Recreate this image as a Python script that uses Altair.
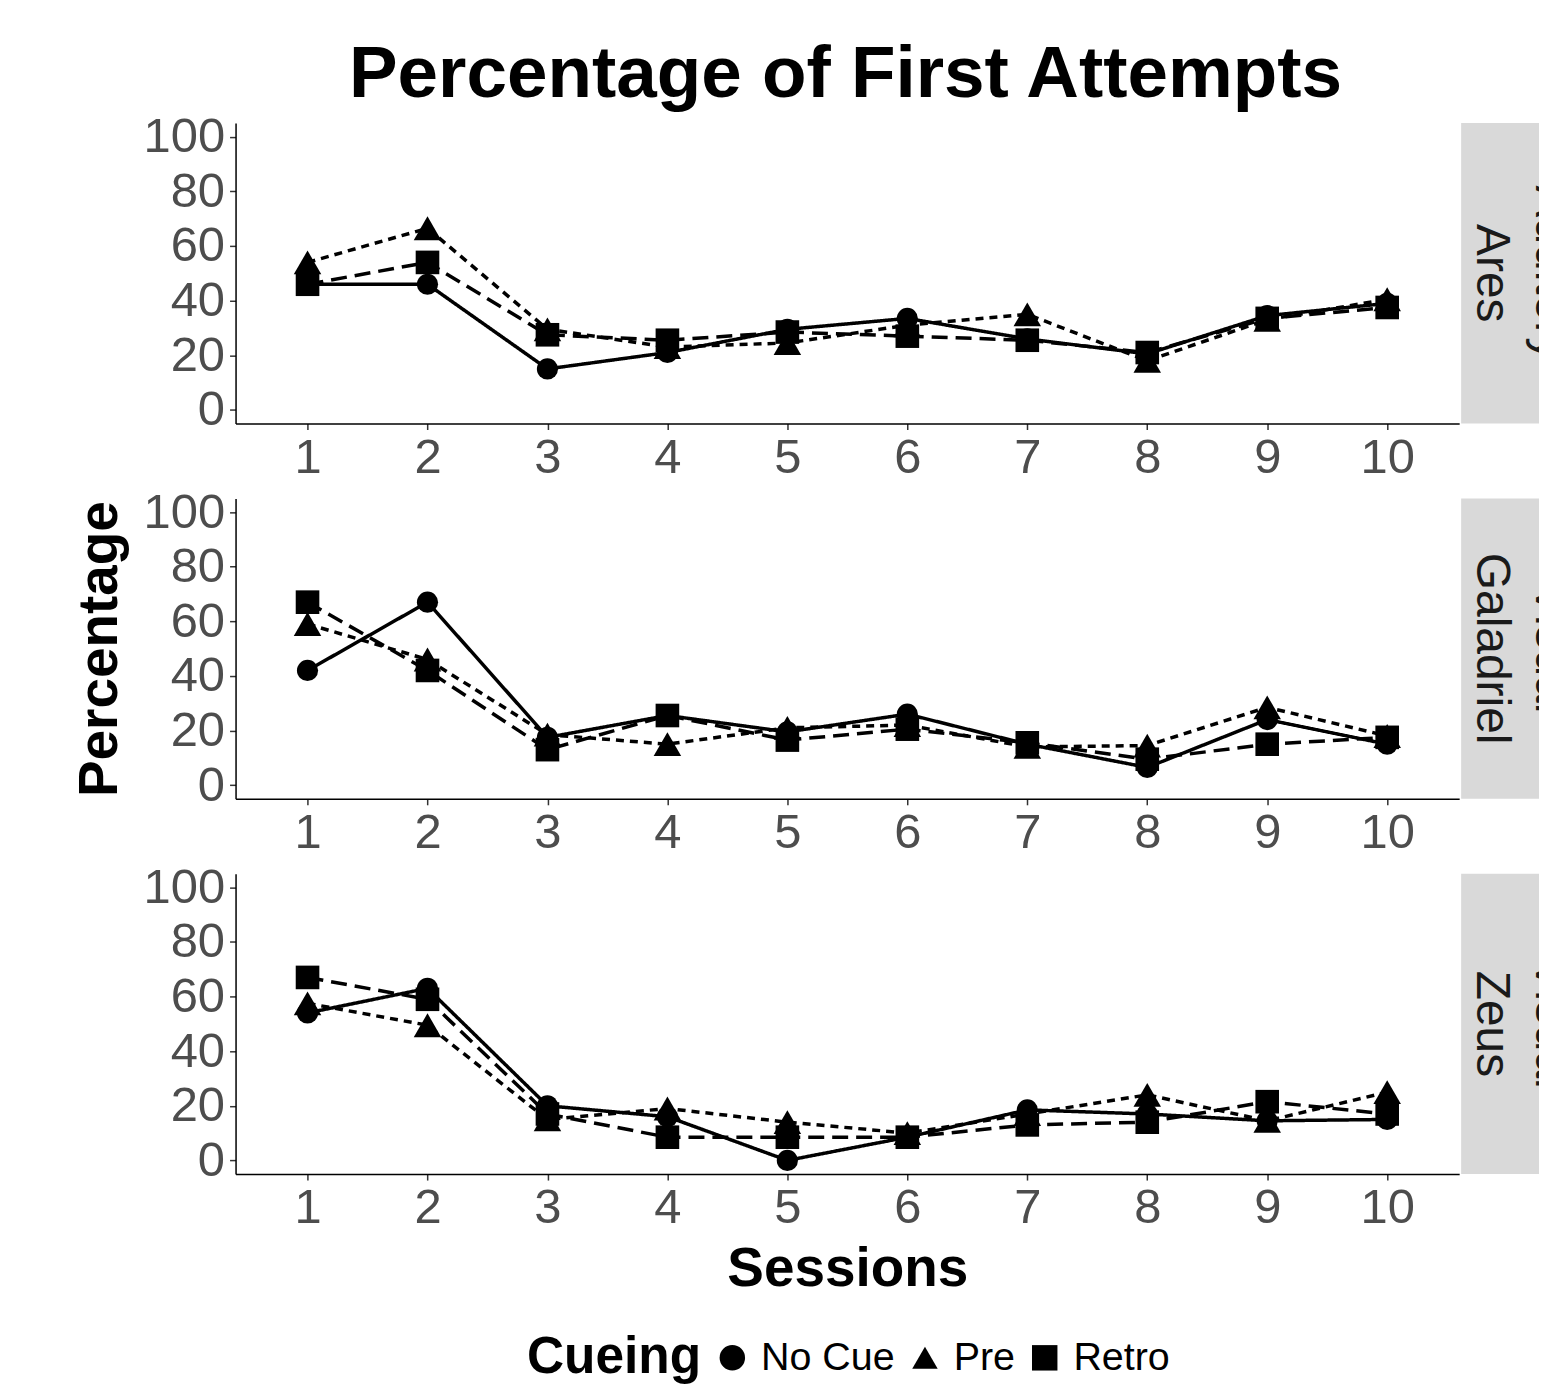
import altair as alt
import pandas as pd

sessions = list(range(1, 11))
animals = ["Ares", "Galadriel", "Zeus"]
modalities = ["Auditory", "Visual", "Visual"]
cueing = ["No Cue", "Pre", "Retro"]

ares_no_cue = [46, 46, 15, 21, 29.5, 33.5, 26, 20.5, 34.5, 39]
ares_pre = [54, 66.5, 29.5, 23, 24.5, 31, 35, 18, 33, 40.5]
ares_retro = [46, 54, 27.5, 25.5, 28.5, 27, 25.5, 21, 33.5, 37.5]

galadriel_no_cue = [42, 67, 17.5, 25.5, 19.5, 26, 15, 6.5, 24, 15]
galadriel_pre = [59, 46, 18.5, 15, 21, 22, 14, 14.5, 28.5, 18]
galadriel_retro = [67, 42, 13, 25.5, 16.5, 20.5, 15.5, 9.5, 15, 17.5]

zeus_no_cue = [54, 63, 20, 16, 0, 8.5, 18.5, 17, 14.5, 15]
zeus_pre = [57.5, 49.5, 15, 19, 14, 10, 17, 24, 14.5, 25]
zeus_retro = [67, 59, 17, 8.5, 8.5, 8.5, 13, 14, 21.5, 17]

series = {
    "Ares": [ares_no_cue, ares_pre, ares_retro],
    "Galadriel": [galadriel_no_cue, galadriel_pre, galadriel_retro],
    "Zeus": [zeus_no_cue, zeus_pre, zeus_retro],
}

rows = []
for animal in animals:
    for cue, vals in zip(cueing, series[animal]):
        for s, v in zip(sessions, vals):
            rows.append({"Animal": animal, "Cueing": cue, "Session": s, "Percentage": v})
df = pd.DataFrame(rows)

FONT = "Liberation Sans"
PW, PH = 1226, 301
SW = 78
GAP = 75
DASHES = {"No Cue": [1, 0], "Pre": [8, 6], "Retro": [16, 8]}

shape_scale = alt.Scale(domain=cueing, range=["circle", "triangle-up", "square"])

legend = alt.Legend(
    title="Cueing", orient="none", legendX=292, legendY=465,
    direction="horizontal", titleOrient="left",
    titleFont=FONT, titleFontSize=51.5, titleFontWeight="bold", titleColor="black",
    labelFont=FONT, labelFontSize=39.5, labelColor="black",
    symbolSize=650, symbolFillColor="black", symbolStrokeColor="black",
    symbolOpacity=1, labelOffset=9, columnPadding=10, titlePadding=11,
)

point_size = (
    alt.when(alt.datum.Cueing == "Pre").then(alt.value(760))
    .when(alt.datum.Cueing == "Retro").then(alt.value(560))
    .otherwise(alt.value(450))
)


def plot_panel(animal, ytitle, xtitle, show_legend):
    base = alt.Chart(df[df["Animal"] == animal])
    xenc = alt.X(
        "Session:Q",
        scale=alt.Scale(domain=[0.4, 10.6], nice=False, zero=False),
        axis=alt.Axis(values=sessions, format="d", labelPadding=4, titlePadding=10),
        title=xtitle,
    )
    yenc = alt.Y(
        "Percentage:Q",
        scale=alt.Scale(domain=[-5, 105], nice=False, zero=False),
        axis=alt.Axis(values=[0, 20, 40, 60, 80, 100], labelPadding=5, titlePadding=15),
        title=ytitle,
    )
    lines = [
        base.transform_filter(alt.datum.Cueing == cue)
        .mark_line(color="black", strokeWidth=3.5, strokeDash=DASHES[cue])
        .encode(x=xenc, y=yenc)
        for cue in cueing
    ]
    pts = base.mark_point(filled=True, color="black", opacity=1).encode(
        x=xenc, y=yenc,
        shape=alt.Shape("Cueing:N", scale=shape_scale, legend=legend if show_legend else None),
        size=point_size,
    )
    return alt.layer(*lines, pts).properties(width=PW, height=PH)


def strip_panel(animal, modality, first):
    sdf = pd.DataFrame([{"Animal": animal, "Modality": modality}])
    sbase = alt.Chart(sdf)
    rect = sbase.mark_rect(color="#d9d9d9").encode(
        x=alt.value(0), x2=alt.value(SW), y=alt.value(0), y2=alt.value(PH)
    )
    t1 = sbase.mark_text(angle=90, fontSize=48, font=FONT, color="#1a1a1a").encode(
        x=alt.value(30), y=alt.value(PH / 2), text="Animal:N"
    )
    t2 = sbase.mark_text(angle=90, fontSize=48, font=FONT, color="#1a1a1a", clip=True).encode(
        x=alt.value(89), y=alt.value(PH / 2), text="Modality:N"
    )
    layers = [rect, t1, t2]
    if first:
        # invisible spacer matching the overhang of the top y-axis label
        spacer = sbase.mark_rule(opacity=0, strokeWidth=1).encode(
            x=alt.value(0), y=alt.value(-10.1), y2=alt.value(0)
        )
        layers.append(spacer)
    return alt.layer(*layers).properties(width=SW, height=PH)


left = alt.vconcat(
    plot_panel("Ares", None, None, False),
    plot_panel("Galadriel", "Percentage", None, False),
    plot_panel("Zeus", None, "Sessions", True),
    spacing=GAP, bounds="flush",
).resolve_scale(shape="shared").resolve_legend(shape="independent")

right = alt.vconcat(
    *[strip_panel(a, m, i == 0) for i, (a, m) in enumerate(zip(animals, modalities))],
    spacing=GAP, bounds="flush",
)

chart = alt.hconcat(left, right, spacing=0).properties(
    title=alt.TitleParams(
        "Percentage of First Attempts", fontSize=73, font=FONT, fontWeight="bold",
        color="black", anchor="middle", offset=0, dx=40,
    ),
    padding={"left": 63, "top": 30, "right": 0, "bottom": 0},
).configure_view(stroke="transparent").configure_axis(
    labelFont=FONT, labelFontSize=49, labelColor="#4d4d4d",
    domainColor="black", domainWidth=1.5, tickColor="#333333", tickSize=6, tickWidth=1.5,
    grid=False, titleFont=FONT, titleFontSize=55, titleFontWeight="bold", titleColor="black",
)

chart.save("out.html", embed_options={"renderer": "svg", "actions": False})
